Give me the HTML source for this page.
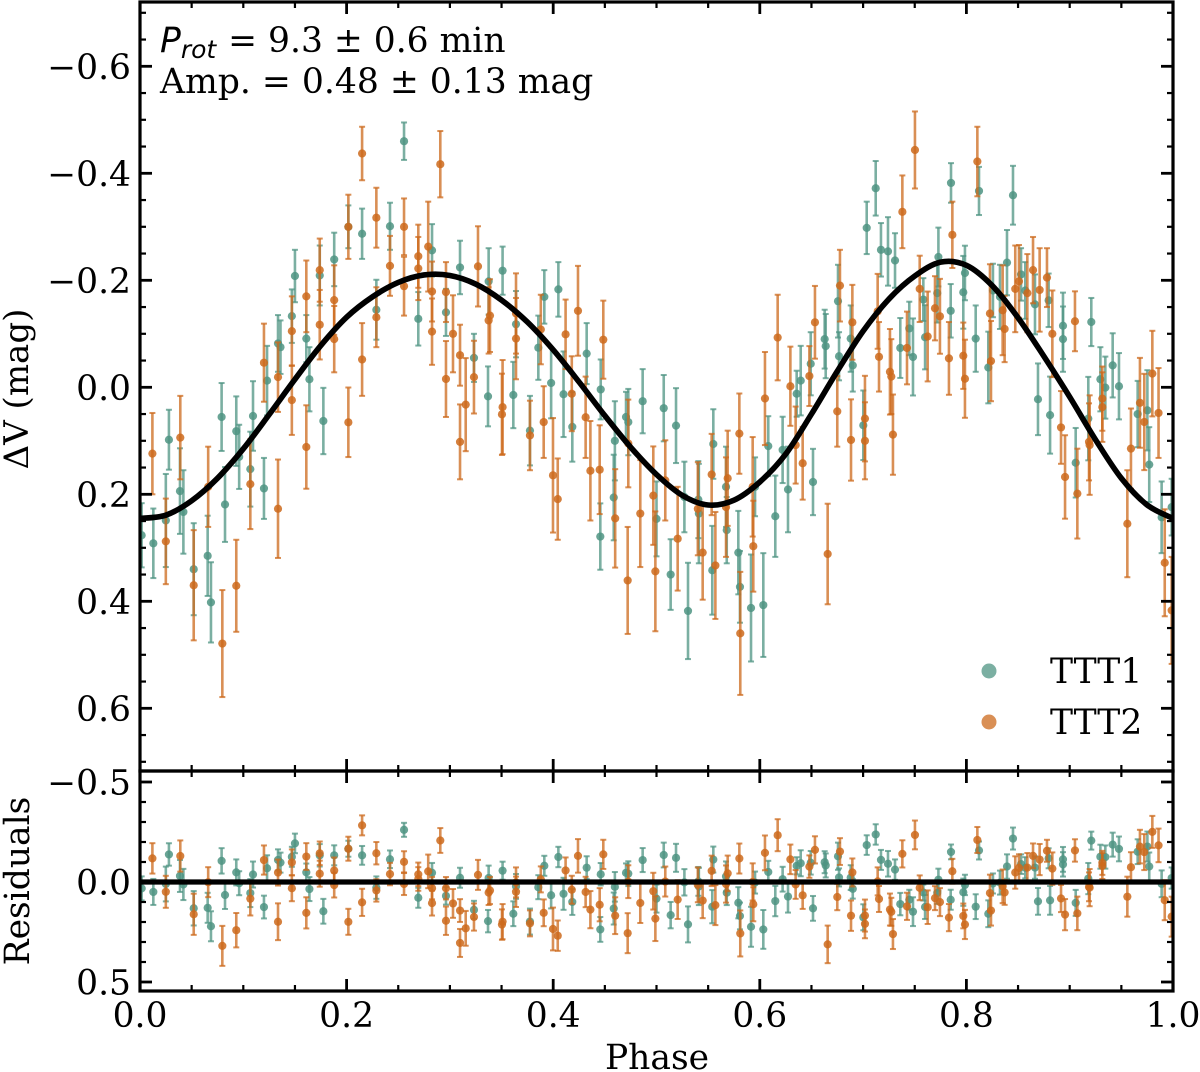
<!DOCTYPE html>
<html lang="en">
<head>
<meta charset="utf-8">
<title>Phase-folded light curve</title>
<style>
html,body{margin:0;padding:0;background:#fff;}
body{width:1200px;height:1072px;overflow:hidden;}
svg{display:block;}
text{font-family:"DejaVu Serif","Liberation Serif",serif;fill:#000;}
</style>
</head>
<body>
<svg id="chart" xmlns="http://www.w3.org/2000/svg" width="1200" height="1072" viewBox="0 0 1200 1072">
  <defs>
    <clipPath id="clip-main"><rect x="140" y="2" width="1033" height="769"/></clipPath>
    <clipPath id="clip-res"><rect x="140" y="771" width="1033" height="220"/></clipPath>
  </defs>
  <g id="main-marks" clip-path="url(#clip-main)"></g>
  <g id="res-marks" clip-path="url(#clip-res)"></g>
  <g id="ticks"></g>
  <rect x="140" y="2" width="1033" height="769" fill="none" stroke="#000" stroke-width="3.2"/>
  <rect x="140" y="771" width="1033" height="220" fill="none" stroke="#000" stroke-width="3.2"/>
  <g id="labels" font-size="34.5"></g>

  <text font-size="34" text-anchor="middle" transform="translate(28,389) rotate(-90)">ΔV (mag)</text>
  <text font-size="34.5" text-anchor="middle" transform="translate(29,881) rotate(-90)">Residuals</text>
  <text font-size="34.5" text-anchor="middle" x="657" y="1069">Phase</text>

  <text font-size="34.5" x="160" y="52"><tspan font-family="'DejaVu Sans',sans-serif" font-style="italic">P</tspan><tspan font-family="'DejaVu Sans',sans-serif" font-style="italic" font-size="25" dy="6">rot</tspan><tspan dy="-6" dx="1"> = 9.3 ± 0.6 min</tspan></text>
  <text font-size="34.6" x="160" y="93">Amp. = 0.48 ± 0.13 mag</text>

  <g>
    <circle cx="989" cy="671" r="7.5" fill="#4f9483" fill-opacity="0.75"/>
    <text font-size="34.5" x="1050" y="683">TTT1</text>
    <circle cx="989" cy="722" r="7.5" fill="#cc6a1c" fill-opacity="0.75"/>
    <text font-size="34.5" x="1050" y="734">TTT2</text>
  </g>
</svg>
<script>
const ttt1Phase = [.242,.2017,.215,.188,.174,.150,.2288,.147,.161,.1336,.136,.123,.164,.028,.079,.0932,.1094,.1775,.0387,.042,.096,.1068,.12,.0823,.025,.0129,.0016,.052,.0655,.0687,.2556,.2827,.3098,.351,.3375,.2694,.2962,.364,.3233,.3369,.3614,.3775,.398,.410,.4185,.446,.4456,.4586,.4597,.4705,.4727,.4866,.50,.4324,.405,.3914,.3856,.7122,.7035,.7173,.7241,.7309,.6757,.688,.6628,.6638,.6767,.6493,.6396,.69,.736,.7447,.7483,.507,.5189,.555,.5673,.6082,.6221,.6273,.6515,.615,.5954,.5405,.541,.5137,.527,.5305,.554,.568,.5792,.5808,.5915,.6034,.7002,.6357,.7851,.8122,.8451,.7729,.8393,.7986,.797,.7583,.7718,.7848,.76,.809,.8212,.8257,.8325,.8529,.857,.8664,.8796,.8935,.8935,.9209,.9297,.9345,.9416,.9477,.9752,.9658,.977,.989,.9987,.8693,.881,.9058,.918];
const ttt1Value = [-.301,-.300,-.287,-.239,-.209,-.208,-.145,-.133,-.091,-.082,-.075,-.0125,-.015,.098,.0555,.082,.0536,.063,.194,.233,.130,.153,.189,.219,.249,.2916,.2766,.340,.315,.402,-.460,-.256,-.224,-.218,-.198,-.128,-.14,-.118,-.055,.017,.0144,.081,-.008,.013,.074,.004,.279,.206,.10,.0555,.065,.026,.246,-.063,-.183,-.169,-.074,-.372,-.298,-.257,-.254,-.237,-.161,-.091,-.09,-.077,-.058,-.044,-.0125,-.041,-.0735,-.11,-.0567,.039,.0716,.106,.186,.11,.117,.191,.177,.241,.186,.21,.236,.35,.205,.418,.342,.267,.309,.373,.4125,.407,.071,.012,-.382,-.367,-.359,-.2435,-.233,-.2137,-.1776,-.164,-.176,-.143,-.0935,-.091,-.037,-.181,-.169,-.211,-.181,-.155,-.1626,-.115,-.09,-.122,-.015,.0006,-.041,-.002,.043,.05,.1445,.243,.224,.0224,.052,.141,.0585];
const ttt1Error = [.044,.04,.047,.05,.056,.049,.056,.05,.044,.053,.05,.065,.06,.056,.0635,.065,.065,.062,.08,.078,.06,.07,.057,.07,.087,.065,.06,.086,.075,.075,.035,.049,.05,.045,.062,.05,.044,.062,.045,.056,.062,.065,.066,.08,.065,.056,.062,.08,.074,.047,.062,.06,.07,.057,.051,.05,.06,.051,.049,.05,.064,.051,.068,.062,.055,.06,.045,.059,.065,.049,.056,.05,.072,.062,.07,.065,.075,.056,.062,.08,.062,.076,.055,.072,.093,.066,.066,.09,.083,.062,.078,.067,.10,.097,.065,.043,.037,.045,.055,.055,.061,.051,.068,.04,.055,.05,.06,.062,.067,.05,.06,.049,.053,.056,.05,.062,.061,.045,.06,.058,.06,.062,.075,.062,.07,.067,.053,.067,.072,.065,.078];

const ttt2Phase = [.215,.2288,.2017,.174,.242,.161,.188,.2288,.174,.147,.188,.12,.1336,.215,.147,.012,.039,.2017,.161,.066,.1068,.1336,.025,.052,.0932,.0797,.2907,.2556,.279,.2694,.2694,.3272,.2556,.2827,.2962,.2827,.3375,.3388,.364,.364,.303,.3098,.3233,.2962,.351,.3504,.3153,.3098,.3775,.3908,.418,.4314,.436,.445,.3998,.4044,.46,.4727,.4843,.4721,.4969,.4989,.4485,.424,.388,.412,.7502,.738,.6776,.6534,.6896,.6173,.648,.6296,.7154,.726,.7141,.7425,.7548,.605,.5802,.5534,.5689,.6347,.6415,.5931,.54,.5447,.5085,.5205,.557,.5673,.5811,.5937,.6657,.675,.6883,.7018,.7018,.7289,.7273,.8106,.7864,.7696,.7744,.7625,.7831,.797,.7986,.8228,.8238,.8351,.837,.8473,.8509,.859,.8645,.8709,.878,.8832,.9051,.98,.986,.9722,.968,.9593,.9558,.992,.9987,.8916,.8955,.9074,.9187,.9193,.9316,.9316];
const ttt2Value = [-.437,-.317,-.30,-.219,-.227,-.170,-.163,-.131,-.117,-.105,-.09,-.046,-.019,-.052,.024,.124,.094,.0654,.1116,.186,.181,.227,.288,.370,.371,.479,-.417,-.30,-.263,-.245,-.222,-.226,-.189,-.179,-.178,-.104,-.125,-.134,-.091,-.138,-.10,-.06,-.019,-.0155,.037,.0505,.0324,.102,.09,.065,.012,.056,.156,.154,.1645,.209,.245,.105,.236,.361,.2025,.344,-.089,-.143,-.108,-.099,-.4436,-.328,-.19,-.1215,-.1215,-.093,-.021,-.002,-.057,-.029,-.142,-.0735,-.184,.021,.0866,.163,.17,.108,.142,.186,.227,.309,.174,.283,.333,.224,.46,.297,.3116,.045,.0985,.0585,.10,.0885,-.02,-.422,-.285,-.1477,-.1327,-.095,-.054,-.059,-.016,-.138,-.049,-.144,-.109,-.184,-.198,-.176,-.219,-.182,-.205,-.1,-.1234,-.0256,.048,.0648,.029,.1146,.255,.328,.417,.075,.1676,.1987,.102,.108,.0212,.037];
const ttt2Error = [.05,.056,.06,.059,.056,.067,.065,.056,.065,.065,.062,.073,.065,.068,.065,.076,.078,.065,.078,.075,.084,.092,.08,.103,.086,.1,.062,.053,.084,.059,.059,.075,.055,.056,.056,.062,.062,.068,.076,.075,.072,.057,.068,.071,.088,.076,.087,.07,.065,.067,.07,.076,.093,.083,.107,.076,.092,.082,.10,.10,.092,.112,.073,.084,.065,.065,.072,.068,.067,.068,.07,.08,.056,.074,.065,.08,.07,.068,.062,.087,.075,.076,.089,.072,.068,.093,.087,.088,.075,.097,.10,.093,.115,.085,.094,.066,.076,.08,.072,.075,.07,.065,.062,.06,.07,.084,.068,.062,.073,.092,.075,.084,.062,.081,.068,.073,.062,.078,.055,.081,.056,.08,.084,.09,.084,.075,.10,.10,.10,.068,.078,.084,.072,.093,.06,.065];

const modelPhase = [0,.025,.05,.075,.1,.125,.15,.175,.2,.225,.25,.275,.3,.325,.35,.375,.4,.425,.45,.475,.5,.525,.55,.575,.6,.625,.65,.675,.7,.725,.75,.775,.8,.825,.85,.875,.9,.925,.95,.975,1];
const modelValue = [.245,.239,.212,.170,.115,.051,-.015,-.078,-.131,-.169,-.196,-.21,-.209,-.193,-.163,-.122,-.07,-.01,.053,.112,.163,.202,.22,.211,.177,.125,.05,-.03,-.105,-.165,-.208,-.234,-.228,-.19,-.13,-.058,.018,.098,.17,.22,.245];

const xTickLabels = ["0.0","0.2","0.4","0.6","0.8","1.0"];
const xTickValues = [0,.2,.4,.6,.8,1];
const mainYTickValues = [-.6,-.4,-.2,0,.2,.4,.6];
const mainYTickLabels = ["\u22120.6","\u22120.4","\u22120.2","0.0","0.2","0.4","0.6"];
const resYTickValues = [-.5,0,.5];
const resYTickLabels = ["\u22120.5","0.0","0.5"];

const NS = "http://www.w3.org/2000/svg";
const xScale = v => 140 + 1033 * v;
const yMain = v => 387.3 + 535 * v;
const yRes = v => 882 + 200 * v;

function make(tag, parent, props) {
  const el = document.createElementNS(NS, tag);
  for (const k in props) el.setAttribute(k, props[k]);
  parent.appendChild(el);
  return el;
}

function modelAt(p) {
  for (let i = 0; i < modelPhase.length - 1; i++) {
    if (p <= modelPhase[i + 1]) {
      const t = (p - modelPhase[i]) / (modelPhase[i + 1] - modelPhase[i]);
      return modelValue[i] + t * (modelValue[i + 1] - modelValue[i]);
    }
  }
  return modelValue[modelValue.length - 1];
}

function drawPoint(parent, cx, cy, top, bottom, color, pointName) {
  const g = make("g", parent, {});
  
  
  const a = "0.75";
  make("line", g, {x1: cx, x2: cx, y1: top, y2: bottom, stroke: color, "stroke-width": 2.6, "stroke-opacity": a});
  make("line", g, {x1: cx - 3, x2: cx + 3, y1: top, y2: top, stroke: color, "stroke-width": 2, "stroke-opacity": a});
  make("line", g, {x1: cx - 3, x2: cx + 3, y1: bottom, y2: bottom, stroke: color, "stroke-width": 2, "stroke-opacity": a});
  make("circle", g, {cx: cx, cy: cy, r: 4.1, fill: color, "fill-opacity": "0.85"});
}

function drawSeries(phase, value, error, color, seriesName) {
  const mainGroup = document.getElementById("main-marks");
  const resGroup = document.getElementById("res-marks");
  phase.forEach((p, i) => {
    const v = value[i], e = error[i], r = v - modelAt(p);
    drawPoint(mainGroup, xScale(p), yMain(v), yMain(v - e), yMain(v + e), color, seriesName + "-point");
    drawPoint(resGroup, xScale(p), yRes(r), yRes(r - e), yRes(r + e), color, seriesName + "-residual");
  });
}

drawSeries(ttt1Phase, ttt1Value, ttt1Error, "#4f9483", "ttt1");
drawSeries(ttt2Phase, ttt2Value, ttt2Error, "#cc6a1c", "ttt2");

function smoothPath(fx, fy) {
  const pts = modelPhase.map((p, i) => [fx(p), fy(modelValue[i])]);
  let d = "M" + pts[0][0] + " " + pts[0][1];
  for (let i = 0; i < pts.length - 1; i++) {
    const p0 = pts[Math.max(i - 1, 0)], p1 = pts[i], p2 = pts[i + 1], p3 = pts[Math.min(i + 2, pts.length - 1)];
    d += "C" + (p1[0] + (p2[0] - p0[0]) / 6) + " " + (p1[1] + (p2[1] - p0[1]) / 6) + " " +
         (p2[0] - (p3[0] - p1[0]) / 6) + " " + (p2[1] - (p3[1] - p1[1]) / 6) + " " + p2[0] + " " + p2[1];
  }
  return d;
}

const modelLine = make("path", document.getElementById("main-marks"), {d: smoothPath(xScale, yMain), fill: "none", stroke: "#000", "stroke-width": 5.6});



const zeroLine = make("line", document.getElementById("res-marks"), {x1: 140, x2: 1173, y1: yRes(0), y2: yRes(0), stroke: "#000", "stroke-width": 5.2});



const tickGroup = document.getElementById("ticks");
function tick(x1, y1, x2, y2, width, tickName) {
  const t = make("line", tickGroup, {x1: x1, y1: y1, x2: x2, y2: y2, stroke: "#000", "stroke-width": width});
  
  
}

for (let i = 0; i <= 20; i++) {
  const x = xScale(i * 0.05), major = i % 4 === 0, len = major ? 12 : 6, w = major ? 2.8 : 2.2;
  tick(x, 2, x, 2 + len, w, "x-tick-main-top");
  tick(x, 771, x, 771 - len, w, "x-tick-main-bottom");
  tick(x, 771, x, 771 + len, w, "x-tick-res-top");
  tick(x, 991, x, 991 - len, w, "x-tick-res-bottom");
}
for (let i = -14; i <= 14; i++) {
  const y = yMain(i * 0.05), major = i % 4 === 0, len = major ? 12 : 6, w = major ? 2.8 : 2.2;
  tick(140, y, 140 + len, y, w, "y-tick-main-left");
  tick(1173, y, 1173 - len, y, w, "y-tick-main-right");
}
for (let i = -5; i <= 5; i++) {
  const y = yRes(i * 0.1), major = i % 5 === 0, len = major ? 12 : 6, w = major ? 2.8 : 2.2;
  tick(140, y, 140 + len, y, w, "y-tick-res-left");
  tick(1173, y, 1173 - len, y, w, "y-tick-res-right");
}

const labelGroup = document.getElementById("labels");
xTickLabels.forEach((s, i) => {
  const t = make("text", labelGroup, {x: xScale(xTickValues[i]), y: 1027, "text-anchor": "middle"});
  t.textContent = s;
  
  
});
mainYTickLabels.forEach((s, i) => {
  const t = make("text", labelGroup, {x: 131, y: yMain(mainYTickValues[i]) + 12.5, "text-anchor": "end"});
  t.textContent = s;
  
  
});
resYTickLabels.forEach((s, i) => {
  const t = make("text", labelGroup, {x: 131, y: yRes(resYTickValues[i]) + 12.5, "text-anchor": "end"});
  t.textContent = s;
  
  
});
</script>
</body>
</html>
